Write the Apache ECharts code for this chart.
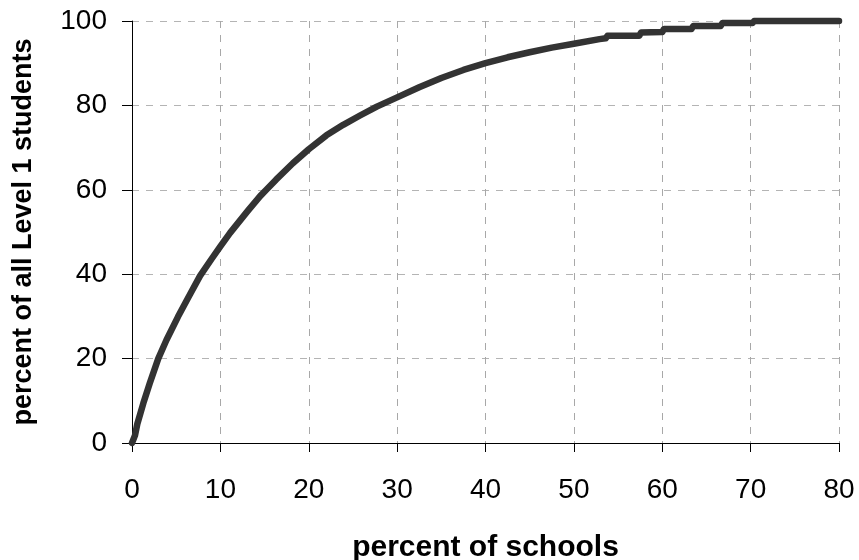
<!DOCTYPE html>
<html><head><meta charset="utf-8">
<script src="https://cdn.jsdelivr.net/npm/echarts@6/dist/echarts.min.js"></script>
<style>html,body{margin:0;padding:0;background:#fff}#c{width:859px;height:560px}</style>
</head><body><div id="c"></div>
<script>
var xLabel = 'percent of schools';
var yLabel = 'percent of all Level 1 students';
var schoolsPct = [0, 0.34, 0.6, 1.28, 2.0, 2.97, 3.9, 5.2, 6.4, 7.7, 9.0, 10, 11.1, 13.1, 14.5, 15.2, 16.3, 18.2, 20, 22.0, 23.9, 25.8, 27.7, 30, 32.5, 35, 37.5, 40, 42.5, 45, 47.5, 50, 52.9, 53.6, 53.8, 57.4, 57.6, 60.0, 60.2, 63.3, 63.5, 66.6, 66.8, 70.2, 70.4, 80];
var studentsPct = [0, 1.8, 4.5, 9.4, 14.1, 20, 24.4, 29.9, 34.6, 39.6, 43.6, 46.6, 49.8, 55.0, 58.5, 60.0, 62.4, 66.3, 69.6, 72.9, 75.4, 77.6, 79.7, 81.9, 84.3, 86.5, 88.4, 90.0, 91.4, 92.6, 93.7, 94.6, 95.7, 95.9, 96.5, 96.5, 97.3, 97.4, 98.1, 98.1, 98.8, 98.8, 99.5, 99.5, 100, 100];
var xTicks = [0, 10, 20, 30, 40, 50, 60, 70, 80];
var yTicks = [0, 20, 40, 60, 80, 100];

var data = schoolsPct.map(function (x, i) { return [x, studentsPct[i]]; });
var chart = echarts.init(document.getElementById('c'));
var font = '"Liberation Sans", Arial, sans-serif';
chart.setOption({
  animation: false,
  backgroundColor: '#ffffff',
  grid: { left: 132, right: 20, top: 21, bottom: 117, containLabel: false, outerBoundsMode: 'none' },
  xAxis: {
    type: 'value', min: xTicks[0], max: xTicks[xTicks.length - 1], interval: 10,
    name: xLabel, nameLocation: 'middle', nameGap: 90,
    nameTextStyle: { fontFamily: font, fontSize: 30, fontWeight: 'bold', color: '#000' },
    axisLine: { onZero: false, lineStyle: { color: '#000', width: 1 } },
    axisTick: { show: true, length: 9, inside: false, lineStyle: { color: '#000' } },
    axisLabel: { fontFamily: font, fontSize: 28, color: '#000', margin: 33 },
    splitLine: { show: true, lineStyle: { color: '#a8a8a8', type: [7, 7], width: 1 } }
  },
  yAxis: {
    type: 'value', min: yTicks[0], max: yTicks[yTicks.length - 1], interval: 20,
    name: yLabel, nameLocation: 'middle', nameGap: 95, nameRotate: 90,
    nameTextStyle: { fontFamily: font, fontSize: 27, fontWeight: 'bold', color: '#000' },
    axisLine: { show: true, lineStyle: { color: '#000', width: 1 } },
    axisTick: { show: true, length: 10, inside: false, lineStyle: { color: '#000' } },
    axisLabel: { fontFamily: font, fontSize: 28, color: '#000', margin: 25 },
    splitLine: { show: true, lineStyle: { color: '#b4b4b4', type: [7, 7], width: 1 } }
  },
  series: [{
    type: 'line', data: data, showSymbol: false, symbol: 'none',
    lineStyle: { color: '#333333', width: 6.5, join: 'round', cap: 'round' },
    clip: false
  }]
});
</script></body></html>
